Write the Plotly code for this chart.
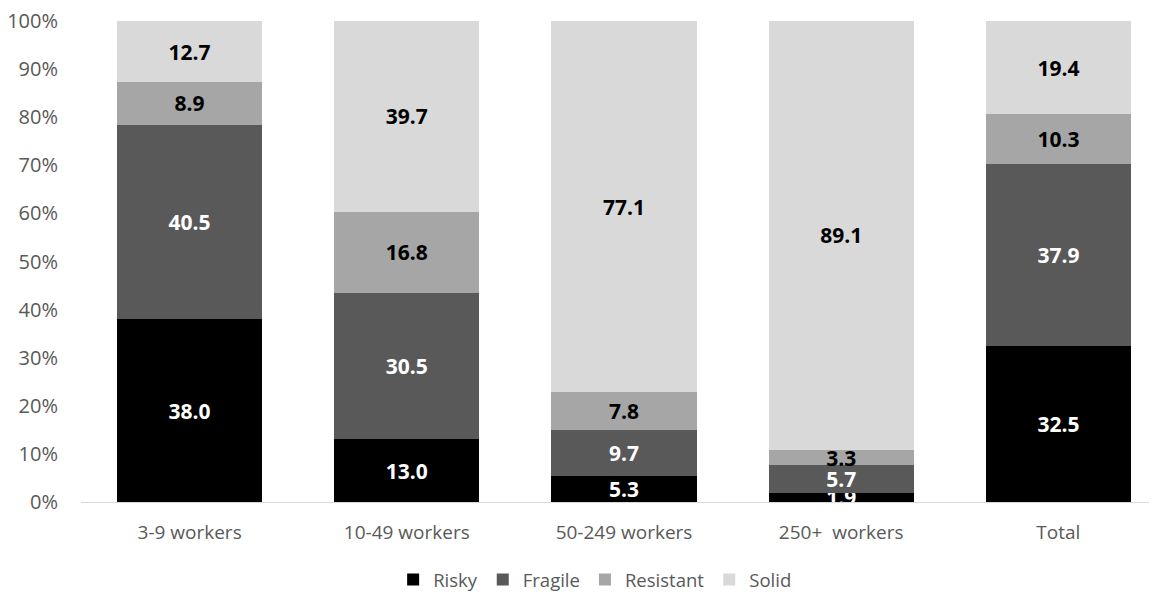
import plotly.graph_objects as go

categories = ["3-9 workers", "10-49 workers", "50-249 workers", "250+  workers", "Total"]
risky = [38.0, 13.0, 5.3, 1.9, 32.5]
fragile = [40.5, 30.5, 9.7, 5.7, 37.9]
resistant = [8.9, 16.8, 7.8, 3.3, 10.3]
solid = [12.7, 39.7, 77.1, 89.1, 19.4]

series = [
    ("Risky", risky, "#000000", "white"),
    ("Fragile", fragile, "#595959", "white"),
    ("Resistant", resistant, "#a6a6a6", "black"),
    ("Solid", solid, "#d9d9d9", "black"),
]

fig = go.Figure()
for name, vals, color, tcolor in series:
    fig.add_trace(go.Bar(
        name=name, x=categories, y=vals,
        marker=dict(color=color, line=dict(width=0)),
        text=[f"{v:.1f}" for v in vals],
        textposition="inside", insidetextanchor="middle",
        textfont=dict(family="Open Sans", size=21, color=tcolor, weight="bold"),
        constraintext="none",
        hoverinfo="skip",
    ))

# page body has an 8px default margin; size the figure to fill the rest
fig.update_layout(
    barmode="stack", barnorm="percent", bargap=0.332,
    width=1149, height=586,
    margin=dict(l=73, r=0, t=13, b=92, autoexpand=False),
    paper_bgcolor="white", plot_bgcolor="white",
    font=dict(family="Open Sans", size=19, color="#595959"),
    uniformtext=dict(mode="show", minsize=21),
    showlegend=True,
    legend=dict(orientation="h", xref="container", yref="container",
                x=0.511, xanchor="center", y=0.024, yanchor="middle",
                font=dict(size=18.5, color="#595959"), traceorder="normal",
                itemclick=False),
)
fig.update_xaxes(range=[-0.5, 4.454], showline=True, linecolor="#d9d9d9", linewidth=1,
                 ticks="outside", ticklen=13, tickcolor="rgba(0,0,0,0)",
                 tickfont=dict(size=19), showgrid=False, fixedrange=True)
fig.update_yaxes(range=[0, 100], tickvals=[0, 10, 20, 30, 40, 50, 60, 70, 80, 90, 100],
                 ticktext=["0%", "10%", "20%", "30%", "40%", "50%", "60%", "70%", "80%", "90%", "100%"],
                 showgrid=False, showline=False, zeroline=False,
                 tickfont=dict(size=20), ticklabeloverflow="allow",
                 ticks="outside", ticklen=18, tickcolor="rgba(0,0,0,0)", fixedrange=True)

fig.write_html("out.html")
